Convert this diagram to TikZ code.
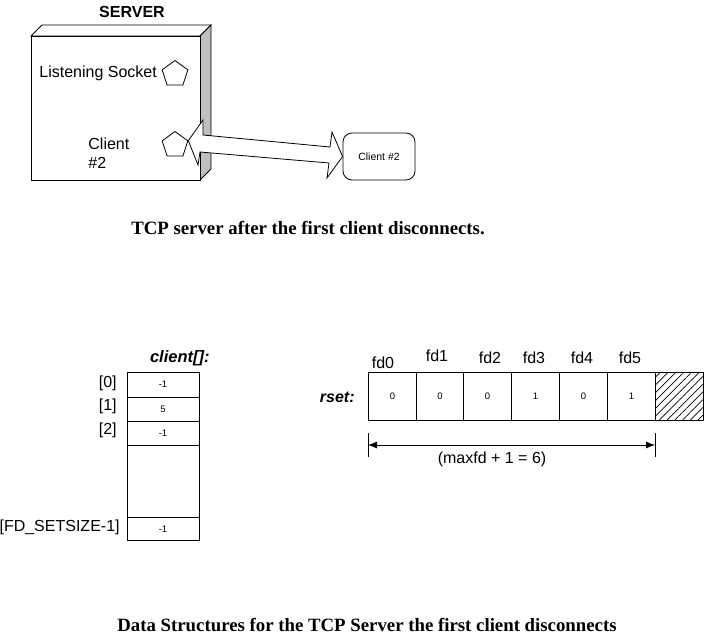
\documentclass[tikz,border=0pt]{standalone}
\usepackage{fontspec}
\setmainfont{Liberation Serif}
\setsansfont{Liberation Sans}
\usetikzlibrary{shapes.geometric,patterns.meta,arrows.meta}
\begin{document}
\begin{tikzpicture}[x=1pt,y=-1pt,
  lbl/.style={font=\sffamily\fontsize{16}{18}\selectfont,inner sep=0pt},
  small/.style={font=\sffamily\fontsize{9.5}{10}\selectfont,inner sep=0pt},
  captxt/.style={font=\bfseries\fontsize{18.8}{20}\selectfont,inner sep=0pt},
  sock/.style={draw,regular polygon,regular polygon sides=5,minimum size=27pt,inner sep=0pt,line width=0.8pt},
  cell/.style={draw,line width=0.8pt,minimum height=48pt,minimum width=48pt,inner sep=0pt,font=\sffamily\fontsize{9.5}{10}\selectfont,anchor=north west},
  line width=0.8pt]
\useasboundingbox (0,0) rectangle (704,636);

% ---- server ----
\fill[white] (0,0) rectangle (704,636);
\draw[fill=white] (31,36) -- (42,25) -- (211,25) -- (200,36) -- cycle;
\draw[fill=black!25] (200,36) -- (211,25) -- (211,169) -- (200,180) -- cycle;
\draw[fill=white] (31,36) rectangle (200,180);
\node[lbl,font=\sffamily\bfseries\fontsize{16}{18}\selectfont] (srv) at (132,12) {SERVER};
\node[lbl,anchor=west] (lstxt) at (39,73) {Listening Socket};
\node[sock] (ls) at (175,74) {};
\node[lbl,anchor=north west,align=left] (cltxt) at (88,138) {Client\\[1pt]\#2};
\node[sock] (cs) at (175,145) {};
\node[draw,rounded corners=9pt,minimum width=72pt,minimum height=47pt,inner sep=0pt,
  font=\sffamily\fontsize{10.5}{12}\selectfont] (c2) at (379,156.5) {Client \#2};
% double arrow
\draw[fill=white,line join=miter] (cs.corner 5) coordinate (ltip)
  -- (203,120) -- (203,135) -- (330,147) -- (332,132) -- (c2.west) coordinate (rtip)
  -- (327,178) -- (329,163) -- (200,152) -- (198,165) -- cycle;

\node[captxt] (cap1) at (308,228) {TCP server after the first client disconnects.};

% ---- client[] ----
\node[font=\sffamily\bfseries\itshape\fontsize{16.5}{18}\selectfont,inner sep=0pt,anchor=east] (cl) at (210,358) {client[]:};
\draw (127,372) rectangle (199,540);
\draw (127,397) -- (199,397);
\draw (127,421) -- (199,421);
\draw (127,445) -- (199,445);
\draw (127,517) -- (199,517);
\node[small] (v0) at (163,384) {-1};
\node[small] (v1) at (163,409) {5};
\node[small] (v2) at (163,433) {-1};
\node[small] (vn) at (163,529) {-1};
\node[lbl,anchor=east] (i0) at (117,383) {[0]};
\node[lbl,anchor=east] (i1) at (117,406) {[1]};
\node[lbl,anchor=east] (i2) at (117,430) {[2]};
\node[lbl,anchor=east] (in) at (120,527) {[FD\_SETSIZE-1]};

% ---- rset ----
\node[font=\sffamily\bfseries\itshape\fontsize{16}{18}\selectfont,inner sep=0pt,anchor=east] (rs) at (355,397) {rset:};
\node[cell,minimum width=48pt] (r0) at (368,372) {0};
\node[cell,minimum width=47pt] (r1) at (416,372) {0};
\node[cell,minimum width=48pt] (r2) at (463,372) {0};
\node[cell,minimum width=48pt] (r3) at (511,372) {1};
\node[cell,minimum width=48pt] (r4) at (559,372) {0};
\node[cell,minimum width=48pt] (r5) at (607,372) {1};
\node[cell,minimum width=48pt,pattern={Lines[angle=45,distance=5.5pt,line width=0.7pt]}] (r6) at (655,372) {};
\node[lbl] (f0) at (383,363) {fd0};
\node[lbl] (f1) at (437,356) {fd1};
\node[lbl] (f2) at (490,358) {fd2};
\node[lbl] (f3) at (534,358) {fd3};
\node[lbl] (f4) at (582,358) {fd4};
\node[lbl] (f5) at (630,358) {fd5};

% dimension
\coordinate (d0) at (368,445);
\coordinate (d1) at (655,445);
\draw (368,433) -- (368,457);
\draw (655,433) -- (655,457);
\draw[{Latex[length=9pt,width=7pt]}-{Latex[length=9pt,width=7pt]}] (d0) -- (d1);
\node[lbl] (dim) at (492,459) {(maxfd + 1 = 6)};

\node[captxt] (cap2) at (367,625) {Data Structures for the TCP Server the first client disconnects};
\end{tikzpicture}
\end{document}
